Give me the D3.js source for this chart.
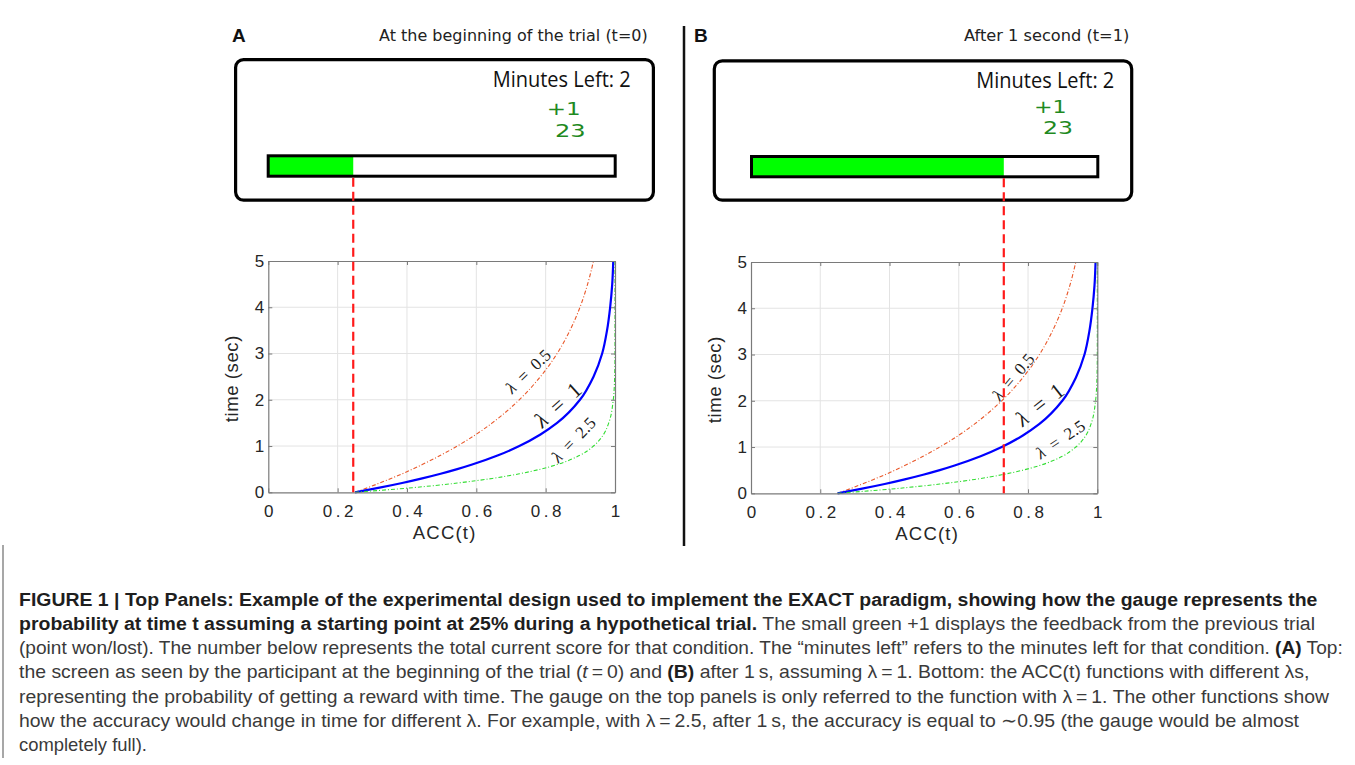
<!DOCTYPE html>
<html>
<head>
<meta charset="utf-8">
<script src="https://cdn.jsdelivr.net/npm/d3@7"></script>
<style>
  body { margin: 0; background: #fff; }
  svg { display: block; }
</style>
</head>
<body>
<svg id="fig" width="1355" height="765"></svg>
<script>
// ---- axis ticks ----
const accTicks = [0, 0.2, 0.4, 0.6, 0.8, 1];
const accTickLabels = ["0", "0.2", "0.4", "0.6", "0.8", "1"];
const timeTicks = [0, 1, 2, 3, 4, 5];
const timeTickLabels = ["0", "1", "2", "3", "4", "5"];

// ---- ACC(t) sampled at these times (sec), one array per lambda ----
const timeSec     = [0, 0.1, 0.2, 0.3, 0.4, 0.5, 0.6, 0.8, 1, 1.25, 1.5, 2, 2.5, 3, 3.5, 4, 4.5, 5];
const accLambda05 = [0.25, 0.287, 0.321, 0.354, 0.386, 0.416, 0.444, 0.497, 0.545, 0.599, 0.646, 0.724, 0.785, 0.833, 0.870, 0.899, 0.921, 0.938];
const accLambda1  = [0.25, 0.321, 0.386, 0.444, 0.497, 0.545, 0.588, 0.663, 0.724, 0.785, 0.833, 0.899, 0.938, 0.963, 0.977, 0.986, 0.992, 0.995];
const accLambda25 = [0.25, 0.416, 0.545, 0.646, 0.724, 0.785, 0.833, 0.899, 0.938, 0.967, 0.982, 0.995, 0.999, 1.0, 1.0, 1.0, 1.0, 1.0];
const lambdaNames = ["0.5", "1", "2.5"];

// ---- screen contents for each panel ----
const panelLetters = ["A", "B"];
const panelTitles  = ["At the beginning of the trial (t=0)", "After 1 second (t=1)"];
const gaugeAcc     = [0.245, 0.73];
const minutesLeft  = [2, 2];
const feedback     = ["+1", "+1"];
const totalScore   = ["23", "23"];

// ---- caption ----
const captionLines = [
  [["b", "FIGURE 1 | Top Panels: Example of the experimental design used to implement the EXACT paradigm, showing how the gauge represents the"]],
  [["b", "probability at time t assuming a starting point at 25% during a hypothetical trial."], ["r", " The small green +1 displays the feedback from the previous trial"]],
  [["r", "(point won/lost). The number below represents the total current score for that condition. The \u201cminutes left\u201d refers to the minutes left for that condition. "], ["b", "(A)"], ["r", " Top:"]],
  [["r", "the screen as seen by the participant at the beginning of the trial ("], ["i", "t"], ["r", "\u2009=\u20090) and "], ["b", "(B)"], ["r", " after 1\u2009s, assuming \u03bb\u2009=\u20091. Bottom: the ACC(t) functions with different \u03bbs,"]],
  [["r", "representing the probability of getting a reward with time. The gauge on the top panels is only referred to the function with \u03bb\u2009=\u20091. The other functions show"]],
  [["r", "how the accuracy would change in time for different \u03bb. For example, with \u03bb\u2009=\u20092.5, after 1\u2009s, the accuracy is equal to \u223c0.95 (the gauge would be almost"]],
  [["r", "completely full)."]]
];

// ---- layout ----
const panels = [
  { px: 268.3, py: 261, pw: 346.7, ph: 231.3,
    box: [234, 58, 655, 201.7], gauge: [266.7, 154.3, 616.7, 177.7],
    letterX: 232, title: [379, 647.7], titleY: 40.5,
    minRight: 630.7, minY: 86.7, plus: [546.7, 580.7, 115], score: [555, 585.7, 136.7],
    labels: [ { acc: 0.749, t: 2.62, rot: -44, size: 17 },
              { acc: 0.834, t: 1.90, rot: -42, size: 22 },
              { acc: 0.880, t: 1.14, rot: -46, size: 17 } ] },
  { px: 751, py: 262, pw: 346.3, ph: 231.3,
    box: [712.7, 59.3, 1133.3, 201.7], gauge: [750, 155, 1099.3, 178.3],
    letterX: 694, title: [964, 1129.3], titleY: 40.5,
    minRight: 1114.3, minY: 88, plus: [1034, 1066.7, 113.3], score: [1043, 1073, 134.3],
    labels: [ { acc: 0.757, t: 2.52, rot: -50, size: 17 },
              { acc: 0.833, t: 1.93, rot: -38, size: 22 },
              { acc: 0.893, t: 1.17, rot: -34, size: 17 } ] }
];

const seriesStyle = [
  { color: "#e9582a", width: 1.1, dash: "4,2,1,2" },
  { color: "#0000ff", width: 2.2, dash: null },
  { color: "#33dd33", width: 1.1, dash: "4,2,1,2" }
];

const svg = d3.select("#fig");
const sans = "'Liberation Sans', Arial, Helvetica, sans-serif";
const verdanaLike = "'DejaVu Sans', Verdana, sans-serif";
const series = [accLambda05, accLambda1, accLambda25];

panels.forEach((p, i) => {
  const g = svg.append("g");
  const x = d3.scaleLinear().domain([0, 1]).range([p.px, p.px + p.pw]);
  const y = d3.scaleLinear().domain([0, 5]).range([p.py + p.ph, p.py]);

  // panel letter and title
  g.append("text").attr("x", p.letterX).attr("y", 42)
    .attr("font-family", sans).attr("font-weight", "bold").attr("font-size", 19)
    .attr("fill", "#111").text(panelLetters[i]);
  g.append("text").attr("x", p.title[0]).attr("y", p.titleY)
    .attr("font-family", verdanaLike).attr("font-size", 15)
    .attr("textLength", p.title[1] - p.title[0]).attr("lengthAdjust", "spacingAndGlyphs")
    .attr("fill", "#222").text(panelTitles[i]);

  // screen box
  const b = p.box;
  g.append("rect").attr("x", b[0] + 1.6).attr("y", b[1] + 1.6)
    .attr("width", b[2] - b[0] - 3.2).attr("height", b[3] - b[1] - 3.2)
    .attr("rx", 8).attr("fill", "#fff").attr("stroke", "#000").attr("stroke-width", 3.2);

  // minutes left
  g.append("text").attr("x", p.minRight - 138).attr("y", p.minY)
    .attr("font-family", "'Open Sans', sans-serif").attr("font-size", 22)
    .attr("textLength", 138).attr("lengthAdjust", "spacingAndGlyphs")
    .attr("fill", "#111").text("Minutes Left: " + minutesLeft[i]);

  // feedback and score
  const green = "#1f8a1f";
  g.append("text").attr("x", p.plus[0]).attr("y", p.plus[2])
    .attr("font-family", verdanaLike).attr("font-size", 18)
    .attr("textLength", p.plus[1] - p.plus[0]).attr("lengthAdjust", "spacingAndGlyphs")
    .attr("fill", green).text(feedback[i]);
  g.append("text").attr("x", p.score[0]).attr("y", p.score[2])
    .attr("font-family", verdanaLike).attr("font-size", 18)
    .attr("textLength", p.score[1] - p.score[0]).attr("lengthAdjust", "spacingAndGlyphs")
    .attr("fill", green).text(totalScore[i]);

  // gauge
  const gg = p.gauge;
  g.append("rect").attr("x", gg[0] + 1.5).attr("y", gg[1] + 1.5)
    .attr("width", x(gaugeAcc[i]) - gg[0] - 1.5).attr("height", gg[3] - gg[1] - 3)
    .attr("fill", "#00ff00");
  g.append("rect").attr("x", gg[0] + 1.5).attr("y", gg[1] + 1.5)
    .attr("width", gg[2] - gg[0] - 3).attr("height", gg[3] - gg[1] - 3)
    .attr("fill", "none").attr("stroke", "#000").attr("stroke-width", 3);

  // plot background and grid
  g.append("rect").attr("x", p.px).attr("y", p.py).attr("width", p.pw).attr("height", p.ph)
    .attr("fill", "#fff");
  g.append("g").selectAll("line").data(accTicks.slice(1, -1)).join("line")
    .attr("x1", d => x(d)).attr("x2", d => x(d)).attr("y1", y(0)).attr("y2", y(5))
    .attr("stroke", "#e3e3e3").attr("stroke-width", 1);
  g.append("g").selectAll("line").data(timeTicks.slice(1, -1)).join("line")
    .attr("x1", x(0)).attr("x2", x(1)).attr("y1", d => y(d)).attr("y2", d => y(d))
    .attr("stroke", "#e3e3e3").attr("stroke-width", 1);

  // curves
  series.forEach((vals, k) => {
    const pts = timeSec.map((t, j) => [vals[j], t]);
    const line = d3.line().x(d => x(d[0])).y(d => y(d[1])).curve(d3.curveMonotoneY);
    const path = g.append("path").datum(pts).attr("d", line)
      .attr("fill", "none").attr("stroke", seriesStyle[k].color)
      .attr("stroke-width", seriesStyle[k].width).attr("stroke-linejoin", "round");
    if (seriesStyle[k].dash) path.attr("stroke-dasharray", seriesStyle[k].dash);
  });

  // axes (ticks point inward, box on)
  const axisColor = "#7a7a7a";
  const xAxis = d3.axisBottom(x).tickValues(accTicks).tickFormat((d, j) => accTickLabels[j])
    .tickSizeInner(-4).tickSizeOuter(0).tickPadding(12.5);
  const yAxis = d3.axisLeft(y).tickValues(timeTicks).tickFormat((d, j) => timeTickLabels[j])
    .tickSizeInner(-4).tickSizeOuter(0).tickPadding(4);
  const xa = g.append("g").attr("transform", `translate(0,${y(0)})`).call(xAxis);
  const ya = g.append("g").attr("transform", `translate(${x(0)},0)`).call(yAxis);
  const xt = g.append("g").attr("transform", `translate(0,${y(5)})`)
    .call(d3.axisTop(x).tickValues(accTicks).tickFormat("").tickSizeInner(-4).tickSizeOuter(0));
  const yr = g.append("g").attr("transform", `translate(${x(1)},0)`)
    .call(d3.axisRight(y).tickValues(timeTicks).tickFormat("").tickSizeInner(-4).tickSizeOuter(0));
  [xa, ya, xt, yr].forEach(a => {
    a.select(".domain").attr("stroke", axisColor).attr("stroke-width", 1.2);
    a.selectAll(".tick line").attr("stroke", axisColor);
    a.selectAll(".tick text").attr("font-family", sans).attr("font-size", 17).attr("fill", "#262626");
  });
  xa.selectAll(".tick text").attr("letter-spacing", 3.5).attr("dx", 1.75);

  // axis titles
  g.append("text").attr("x", (x(0) + x(1)) / 2 + 3).attr("y", y(0) + 47)
    .attr("text-anchor", "middle").attr("font-family", sans).attr("font-size", 18.5)
    .attr("letter-spacing", 1.2).attr("fill", "#262626").text("ACC(t)");
  g.append("text").attr("transform", `translate(${p.px - 30},${(y(0) + y(5)) / 2 + 2}) rotate(-90)`)
    .attr("text-anchor", "middle").attr("font-family", sans).attr("font-size", 18.5)
    .attr("letter-spacing", 0.6).attr("fill", "#262626").text("time (sec)");

  // lambda annotations
  p.labels.forEach((lb, k) => {
    const t = g.append("text")
      .attr("transform", `translate(${x(lb.acc)},${y(lb.t)}) rotate(${lb.rot})`)
      .attr("text-anchor", "middle").attr("dominant-baseline", "central")
      .attr("font-family", "'Liberation Serif', 'DejaVu Serif', serif")
      .attr("font-size", lb.size).attr("fill", "#1a1a1a");
    t.append("tspan").attr("font-style", "italic").text("\u03bb");
    t.append("tspan").text("\u2002=\u2002" + lambdaNames[k]);
  });

  // gauge-to-curve marker
  g.append("line").attr("x1", x(gaugeAcc[i])).attr("x2", x(gaugeAcc[i]))
    .attr("y1", gg[3]).attr("y2", y(0))
    .attr("stroke", "#ff1a1a").attr("stroke-width", 2.2).attr("stroke-dasharray", "9,5");
});

// separator between panels
svg.append("line").attr("x1", 684).attr("x2", 684).attr("y1", 26).attr("y2", 546)
  .attr("stroke", "#111").attr("stroke-width", 2.5);

// caption
svg.append("line").attr("x1", 3).attr("x2", 3).attr("y1", 545).attr("y2", 758)
  .attr("stroke", "#8a8a8a").attr("stroke-width", 1.5);

const capX = 19;
const capY = [605.5, 629.8, 654.1, 678.4, 702.7, 727, 751.3];
const capRight = [1318, 1316, 1343, 1310, 1330, 1300, 147];
captionLines.forEach((runs, i) => {
  const t = svg.append("text").attr("x", 0).attr("y", 0)
    .attr("font-family", "'Liberation Sans Narrow', 'Liberation Sans', Arial, sans-serif")
    .attr("font-size", 19).attr("xml:space", "preserve");
  runs.forEach(([kind, str]) => {
    const s = t.append("tspan").text(str)
      .attr("fill", kind === "b" ? "#1e1e1e" : "#3a3a3a");
    if (kind === "b") s.attr("font-weight", "bold");
    if (kind === "i") s.attr("font-style", "italic");
  });
  const natural = t.node().getComputedTextLength();
  const k = (capRight[i] - capX) / natural;
  t.attr("transform", `translate(${capX},${capY[i]}) scale(${k},1)`);
});
</script>
</body>
</html>
